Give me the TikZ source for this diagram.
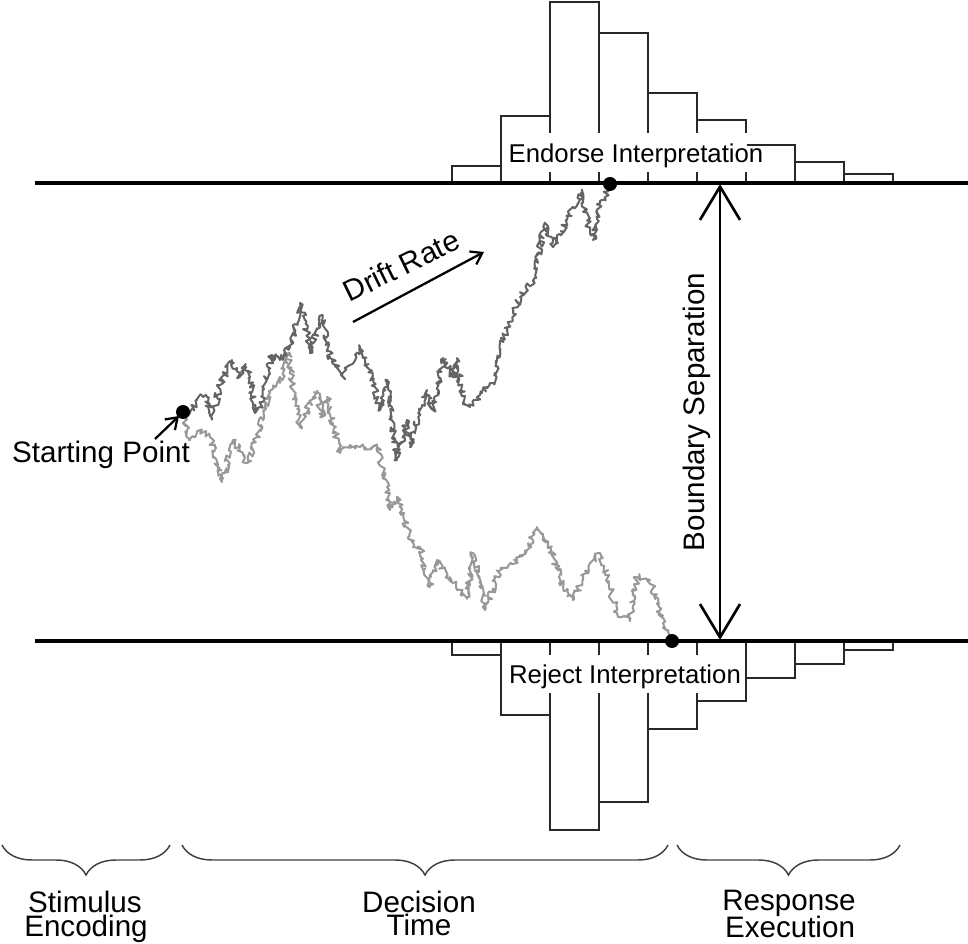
\documentclass[tikz,border=0pt]{standalone}
\usepackage{fontspec}
\setmainfont{Liberation Sans}
\usetikzlibrary{arrows.meta,decorations.pathmorphing,decorations.pathreplacing}
\definecolor{walkdark}{RGB}{100,100,100}
\definecolor{walklight}{RGB}{152,152,152}
\definecolor{histline}{RGB}{40,40,40}
\begin{document}
\begin{tikzpicture}[x=0.75pt,y=-0.75pt,
  axisline/.style={line width=2.3pt,black},
  histbar/.style={line width=1.4pt,draw=histline,fill=white},
  darkwalk/.style={line width=1.5pt,draw=walkdark,line join=round,decorate,
     decoration={random steps,segment length=1.4pt,amplitude=2.5pt}},
  lightwalk/.style={line width=1.5pt,draw=walklight,line join=round,decorate,
     decoration={random steps,segment length=1.4pt,amplitude=2.5pt}},
  bigtxt/.style={font=\fontsize{22.2}{24}\selectfont,inner sep=0pt},
  histtxt/.style={font=\fontsize{19.3}{22}\selectfont,inner sep=0pt},
  dot/.style={circle,fill=black,inner sep=0pt,minimum size=10.5pt},
  curly/.style={line width=1.1pt,draw=black!75,decorate,decoration={brace,amplitude=22.5pt}},
  barb/.style={-{Straight Barb[length=8pt,width=11pt]},line width=1.7pt}
]
\useasboundingbox (0,0) rectangle (968,944);
\pgfmathsetseed{2024}
% histograms
\foreach \x/\t/\b in {452/166/655,501/116/715,550/2/830,599/33/802,648/93/729,697/120/701,746/145/678,795/162/664,844/174/650}{
  \draw[histbar] (\x,183) rectangle ({\x+49},\t);
  \draw[histbar] (\x,641) rectangle ({\x+49},\b);
}
% boundary lines
\draw[axisline] (35,183) -- (968,183);
\draw[axisline] (35,641) -- (968,641);
% label boxes
\fill[white] (503,133) rectangle (747,172);
\fill[white] (503,655) rectangle (743,693);
\node[histtxt,anchor=base] (endorse) at (636,163) {Endorse Interpretation};
\node[histtxt,anchor=base] (reject) at (625,684) {Reject Interpretation};
% random walks
\draw[lightwalk] (183,412) -- (190,440) -- (200,430) -- (210,437) -- (222,482) -- (233,440) -- (247,463) -- (257,437) -- (270,393) -- (280,383) -- (288,353) -- (293,390) -- (300,427) -- (310,403) -- (317,393) -- (322,417) -- (327,397) -- (340,453) -- (350,445) -- (360,447) -- (377,447) -- (387,487) -- (390,510) -- (397,497) -- (413,547) -- (420,547) -- (430,587) -- (437,560) -- (453,583) -- (467,597) -- (473,553) -- (485,610) -- (500,570) -- (517,560) -- (527,550) -- (537,527) -- (550,547) -- (563,587) -- (573,600) -- (590,563) -- (600,553) -- (617,613) -- (630,620) -- (637,577) -- (650,580) -- (663,623) -- (672,641);
\draw[darkwalk] (183,412) -- (190,413) -- (197,400) -- (206,395) -- (212,418) -- (220,385) -- (232,360) -- (240,377) -- (245,365) -- (250,377) -- (255,413) -- (260,407) -- (272,355) -- (280,360) -- (290,347) -- (300,303) -- (305,320) -- (310,353) -- (322,315) -- (330,357) -- (343,377) -- (350,365) -- (360,347) -- (370,370) -- (380,410) -- (387,380) -- (397,460) -- (407,420) -- (410,447) -- (420,410) -- (427,390) -- (433,410) -- (443,358) -- (453,377) -- (457,358) -- (463,403) -- (470,407) -- (480,395) -- (487,387) -- (493,383) -- (500,350) -- (507,330) -- (520,297) -- (533,280) -- (545,223) -- (553,247) -- (567,220) -- (582,190) -- (590,233) -- (593,240) -- (600,203) -- (605,197) -- (610,183);
% dots
\node[dot] (start) at (183,412) {};
\node[dot] (hitup) at (610,184) {};
\node[dot] (hitdown) at (672,641) {};
% starting point
\coordinate (sptail) at (155,439);
\coordinate (sphead) at (179,416);
\draw[barb] (sptail) -- (sphead);
\node[bigtxt,anchor=base] (startlbl) at (101,463) {Starting Point};
% drift rate
\coordinate (drtail) at (353,322);
\coordinate (drhead) at (484,252);
\draw[barb] (drtail) -- (drhead);
\node[bigtxt,anchor=base,rotate=26] (driftlbl) at (406,275) {Drift Rate};
% boundary separation
\coordinate (bstop) at (720,184);
\coordinate (bsbot) at (720,640);
\draw[{Straight Barb[length=25pt,width=30pt]}-{Straight Barb[length=25pt,width=30pt]},line width=2pt] (bstop) -- (bsbot);
\node[bigtxt,anchor=base,rotate=90] (bslbl) at (704,412) {Boundary Separation};
% braces
\draw[curly] (170,845) -- (2,845);
\draw[curly] (668,845) -- (182,845);
\draw[curly] (900,845) -- (677,845);
\node[bigtxt,anchor=base] (stim1) at (85,912) {Stimulus};
\node[bigtxt,anchor=base] (stim2) at (86,936) {Encoding};
\node[bigtxt,anchor=base] (dec1) at (419,912) {Decision};
\node[bigtxt,anchor=base] (dec2) at (419,935) {Time};
\node[bigtxt,anchor=base] (resp1) at (789,910) {Response};
\node[bigtxt,anchor=base] (resp2) at (790,937) {Execution};
\end{tikzpicture}
\end{document}
